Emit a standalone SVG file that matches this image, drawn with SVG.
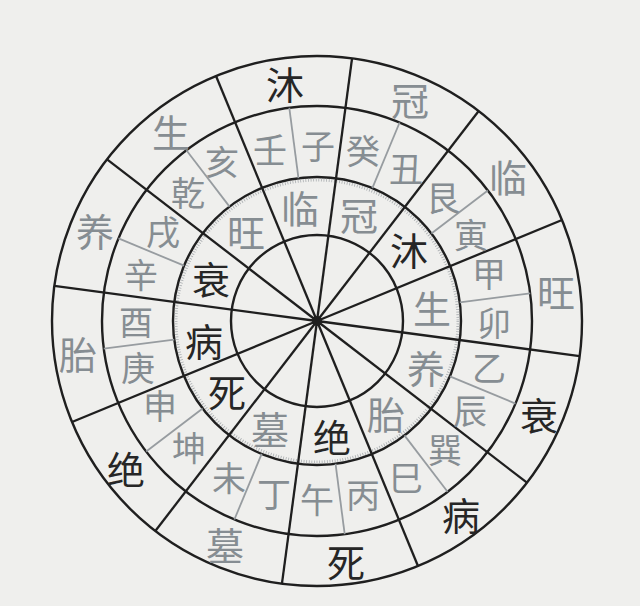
<svg xmlns="http://www.w3.org/2000/svg" width="640" height="606" viewBox="0 0 640 606">
<style>
.bg{fill:#efefed}
.ring{fill:none;stroke:#1f1f1f;stroke-width:2.4}
.spoke{stroke:#1f1f1f;stroke-width:2.3}
.thin{stroke:#979ca0;stroke-width:1.8}
.ticks{fill:none;stroke:#a9adb0;stroke-width:3;stroke-dasharray:0.8 1.8}
text{font-family:"Noto Sans CJK SC","Noto Sans CJK TC",sans-serif;text-anchor:middle;dominant-baseline:central}
.big{font-size:38px}
.mid{font-size:34px}
.dk{fill:#262626}
.gr{fill:#868d92}
</style>
<rect class="bg" x="0" y="0" width="640" height="606"/>
<g id="rings">
<circle class="ring" cx="317" cy="321" r="265"/>
<circle class="ring" cx="317" cy="321" r="215"/>
<circle class="ring" cx="317" cy="321" r="144"/>
<circle class="ring" cx="317" cy="321" r="86"/>
<circle class="ticks" cx="317" cy="321" r="141"/>
</g>
<g id="connectors">
<line class="spoke" x1="317" y1="321" x2="317" y2="56" transform="rotate(7.6 317 321)"/>
<line class="spoke" x1="317" y1="321" x2="317" y2="56" transform="rotate(37.6 317 321)"/>
<line class="spoke" x1="317" y1="321" x2="317" y2="56" transform="rotate(67.6 317 321)"/>
<line class="spoke" x1="317" y1="321" x2="317" y2="56" transform="rotate(97.6 317 321)"/>
<line class="spoke" x1="317" y1="321" x2="317" y2="56" transform="rotate(127.6 317 321)"/>
<line class="spoke" x1="317" y1="321" x2="317" y2="56" transform="rotate(157.6 317 321)"/>
<line class="spoke" x1="317" y1="321" x2="317" y2="56" transform="rotate(187.6 317 321)"/>
<line class="spoke" x1="317" y1="321" x2="317" y2="56" transform="rotate(217.6 317 321)"/>
<line class="spoke" x1="317" y1="321" x2="317" y2="56" transform="rotate(247.6 317 321)"/>
<line class="spoke" x1="317" y1="321" x2="317" y2="56" transform="rotate(277.6 317 321)"/>
<line class="spoke" x1="317" y1="321" x2="317" y2="56" transform="rotate(307.6 317 321)"/>
<line class="spoke" x1="317" y1="321" x2="317" y2="56" transform="rotate(337.6 317 321)"/>
<line class="thin" x1="317" y1="177" x2="317" y2="106" transform="rotate(22.6 317 321)"/>
<line class="thin" x1="317" y1="177" x2="317" y2="106" transform="rotate(52.6 317 321)"/>
<line class="thin" x1="317" y1="177" x2="317" y2="106" transform="rotate(82.6 317 321)"/>
<line class="thin" x1="317" y1="177" x2="317" y2="106" transform="rotate(112.6 317 321)"/>
<line class="thin" x1="317" y1="177" x2="317" y2="106" transform="rotate(142.6 317 321)"/>
<line class="thin" x1="317" y1="177" x2="317" y2="106" transform="rotate(172.6 317 321)"/>
<line class="thin" x1="317" y1="177" x2="317" y2="106" transform="rotate(202.6 317 321)"/>
<line class="thin" x1="317" y1="177" x2="317" y2="106" transform="rotate(232.6 317 321)"/>
<line class="thin" x1="317" y1="177" x2="317" y2="106" transform="rotate(262.6 317 321)"/>
<line class="thin" x1="317" y1="177" x2="317" y2="106" transform="rotate(292.6 317 321)"/>
<line class="thin" x1="317" y1="177" x2="317" y2="106" transform="rotate(322.6 317 321)"/>
<line class="thin" x1="317" y1="177" x2="317" y2="106" transform="rotate(352.6 317 321)"/>
<circle cx="317" cy="321" r="5" fill="#1f1f1f"/>
</g>
<g id="outer-ring">
<text class="big dk" x="285" y="82">沐</text>
<text class="big gr" x="410" y="98">冠</text>
<text class="big gr" x="508" y="175">临</text>
<text class="big gr" x="556" y="290">旺</text>
<text class="big dk" x="539" y="413">衰</text>
<text class="big dk" x="461" y="513">病</text>
<text class="big dk" x="346" y="560">死</text>
<text class="big gr" x="225" y="543">墓</text>
<text class="big dk" x="126" y="467">绝</text>
<text class="big gr" x="78" y="352">胎</text>
<text class="big gr" x="95" y="229">养</text>
<text class="big gr" x="171" y="130">生</text>
</g>
<g id="mountain-ring">
<text class="mid gr" x="318" y="144">子</text>
<text class="mid gr" x="363" y="149">癸</text>
<text class="mid gr" x="406" y="167">丑</text>
<text class="mid gr" x="443" y="196">艮</text>
<text class="mid gr" x="471" y="233">寅</text>
<text class="mid gr" x="489" y="272">甲</text>
<text class="mid gr" x="494" y="321">卯</text>
<text class="mid gr" x="489" y="366">乙</text>
<text class="mid gr" x="470" y="409">辰</text>
<text class="mid gr" x="445" y="448">巽</text>
<text class="mid gr" x="406" y="476">巳</text>
<text class="mid gr" x="363" y="493">丙</text>
<text class="mid gr" x="317" y="498">午</text>
<text class="mid gr" x="274" y="492">丁</text>
<text class="mid gr" x="229" y="476">未</text>
<text class="mid gr" x="189" y="446">坤</text>
<text class="mid gr" x="160" y="404">申</text>
<text class="mid gr" x="138" y="366">庚</text>
<text class="mid gr" x="136" y="320">酉</text>
<text class="mid gr" x="141" y="273">辛</text>
<text class="mid gr" x="163" y="230">戌</text>
<text class="mid gr" x="188" y="191">乾</text>
<text class="mid gr" x="222" y="160">亥</text>
<text class="mid gr" x="270" y="148">壬</text>
</g>
<g id="inner-ring">
<text class="big gr" x="359" y="213">冠</text>
<text class="big dk" x="409" y="248">沐</text>
<text class="big gr" x="432" y="306">生</text>
<text class="big gr" x="426" y="366">养</text>
<text class="big gr" x="386" y="412">胎</text>
<text class="big dk" x="332" y="435">绝</text>
<text class="big gr" x="270" y="427">墓</text>
<text class="big dk" x="227" y="390">死</text>
<text class="big dk" x="204" y="339">病</text>
<text class="big dk" x="211" y="277">衰</text>
<text class="big gr" x="246" y="230">旺</text>
<text class="big gr" x="300" y="206">临</text>
</g>
</svg>
